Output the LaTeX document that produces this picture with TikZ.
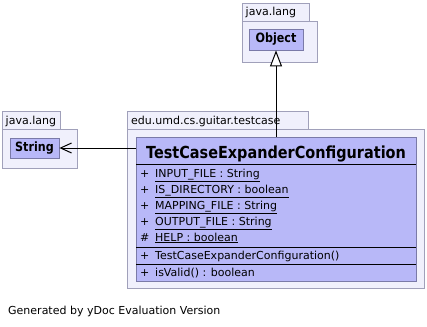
\documentclass[tikz,border=0pt]{standalone}
\usepackage{fontspec}
\setmainfont{DejaVu Sans}
\newfontfamily\condfont[FakeStretch=0.87]{DejaVu Sans}
\usetikzlibrary{arrows.meta}

\definecolor{pkgfill}{RGB}{240,240,252}
\definecolor{pkgline}{RGB}{160,160,186}
\definecolor{clsfill}{RGB}{184,184,248}
\definecolor{clsline}{RGB}{122,122,168}

\tikzset{
  pkgshape/.style={draw=pkgline, fill=pkgfill, line width=0.8pt},
  pkglabel/.style={anchor=base west, inner sep=0pt, font=\fontsize{11}{13}\selectfont},
  cbox/.style={draw=clsline, fill=clsfill, line width=0.8pt, inner sep=0pt},
  cname/.style={font=\condfont\bfseries\fontsize{12.8}{15}\selectfont},
  member/.style={anchor=base west, inner sep=0pt, font=\fontsize{11}{13}\selectfont},
  sep/.style={draw=black, line width=0.8pt},
  gen/.style={draw=black, line width=1pt, -{Triangle[fill=white, length=16pt, width=12pt]}},
  dep/.style={draw=black, line width=1pt, -{Straight Barb[length=11pt, width=10pt]}},
}

\begin{document}
\begin{tikzpicture}[x=1pt, y=-1pt]
\useasboundingbox (0,0) rectangle (427,326);

% package java.lang holding Object
\path[pkgshape] (242,21) rectangle (317,62);
\path[pkgshape] (242,3) rectangle (309,21);
\node[pkglabel] (pkgobj) at (245.5,16) {java.lang};
\node[cbox, cname, minimum width=54pt, minimum height=21pt] (object) at (276,39.5) {Object};

% package java.lang holding String
\path[pkgshape] (2,129) rectangle (77,168);
\path[pkgshape] (2,111) rectangle (60,129);
\node[pkglabel] (pkgstr) at (5.5,124.5) {java.lang};
\node[cbox, cname, minimum width=49pt, minimum height=20pt] (string) at (34.5,148) {String};

% package edu.umd.cs.guitar.testcase
\path[pkgshape] (127,129) rectangle (424,288);
\path[pkgshape] (127,111) rectangle (308,129);
\node[pkglabel] (pkgedu) at (131,124.5) {edu.umd.cs.guitar.testcase};

% class box
\node[cbox, minimum width=280pt, minimum height=144pt] (cls) at (276,209) {};
\node[anchor=base, inner sep=0pt, font=\condfont\bfseries\fontsize{16.6}{19}\selectfont] (title) at (276,158) {TestCaseExpanderConfiguration};
\draw[sep] (136,164) -- (416,164);
\draw[sep] (136,247) -- (416,247);
\draw[sep] (136,264) -- (416,264);

% attributes
\node[member] (v1) at (140,177) {+};
\node[member] (a1) at (155,177) {\underline{INPUT\_FILE : String}};
\node[member] (v2) at (140,193) {+};
\node[member] (a2) at (155,193) {\underline{IS\_DIRECTORY : boolean}};
\node[member] (v3) at (140,209) {+};
\node[member] (a3) at (155,209) {\underline{MAPPING\_FILE : String}};
\node[member] (v4) at (140,225) {+};
\node[member] (a4) at (155,225) {\underline{OUTPUT\_FILE : String}};
\node[member] (v5) at (140,241) {\#};
\node[member] (a5) at (155,241) {\underline{HELP : boolean}};

% operations
\node[member] (v6) at (140,259.5) {+};
\node[member] (m1) at (155,259.5) {TestCaseExpanderConfiguration()};
\node[member] (v7) at (140,276.5) {+};
\node[member] (m2) at (155,276.5) {isValid() : boolean};

% relations
\draw[gen] (cls.north) -- (object.south);
\draw[dep] (cls.west |- string.east) -- (string.east);

% footer
\node[member] (footer) at (8,314) {Generated by yDoc Evaluation Version};
\end{tikzpicture}
\end{document}
